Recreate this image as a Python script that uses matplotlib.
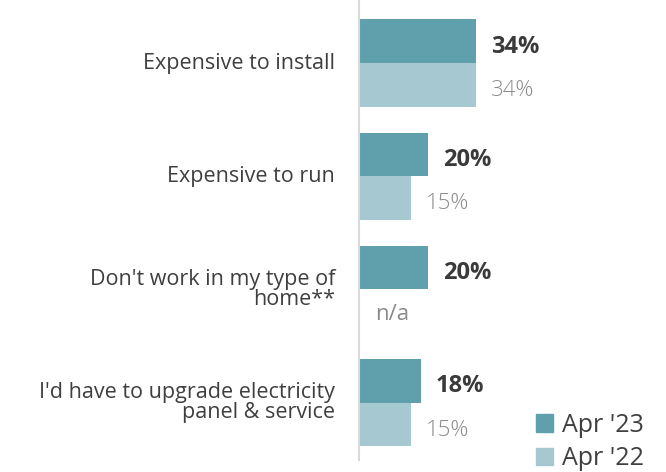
import matplotlib
matplotlib.use("Agg")
import matplotlib.pyplot as plt
from matplotlib.patches import Patch

categories = ["Expensive to install", "Expensive to run",
              "Don't work in my type of\nhome**",
              "I'd have to upgrade electricity\npanel & service"]
apr_23 = [34, 20, 20, 18]
apr_22 = [34, 15, None, 15]
series_names = ["Apr '23", "Apr '22"]

dark = "#609FAC"
light = "#A6C9D1"

plt.rcParams['font.family'] = ['Open Sans', 'DejaVu Sans']

fig = plt.figure(figsize=(6.66, 4.72), dpi=100)
ax = fig.add_axes([359 / 666, 0, 1 - 359 / 666, 1])

bar_h = 0.385

for i, cat in enumerate(categories):
    y_top = i - bar_h / 2
    y_bot = i + bar_h / 2
    ax.barh(y_top, apr_23[i], height=bar_h, color=dark)
    ax.text(apr_23[i] + 4.4, y_top + 0.05, f"{apr_23[i]}%", ha="left", va="center",
            fontsize=17, fontweight="bold", color="#3a3a3a")
    if apr_22[i] is None:
        ax.text(4.6, y_bot + 0.03, "n/a", ha="left", va="center", fontsize=16, color="#8a8a8a")
    else:
        ax.barh(y_bot, apr_22[i], height=bar_h, color=light)
        ax.text(apr_22[i] + 4.4, y_bot + 0.05, f"{apr_22[i]}%", ha="left", va="center",
                fontsize=16, fontweight="light", color="#8a8a8a")
    ax.text(-7, i, cat, ha="right", va="center", multialignment="right",
            fontsize=15.5, color="#3f3f3f", linespacing=0.95)

ax.set_xlim(0, 307 / 3.44)
ax.set_ylim(3.613, -0.557)
ax.set_xticks([])
ax.set_yticks([])
for s in ["top", "right", "bottom"]:
    ax.spines[s].set_visible(False)
ax.spines["left"].set_color("#d9d9d9")
ax.spines["left"].set_linewidth(1.5)
ax.spines["left"].set_bounds(-0.557, 3.507)
ax.patch.set_alpha(0)

handles = [Patch(color=dark, label=series_names[0]), Patch(color=light, label=series_names[1])]
fig.legend(handles=handles, loc="lower right", bbox_to_anchor=(1.0 - 5 / 666, -0.035), frameon=False,
           fontsize=18, handlelength=0.68, handleheight=0.68, handletextpad=0.35,
           labelspacing=0.33, labelcolor="#3f3f3f", borderpad=0.2)

fig.savefig("out.png", dpi=100)
